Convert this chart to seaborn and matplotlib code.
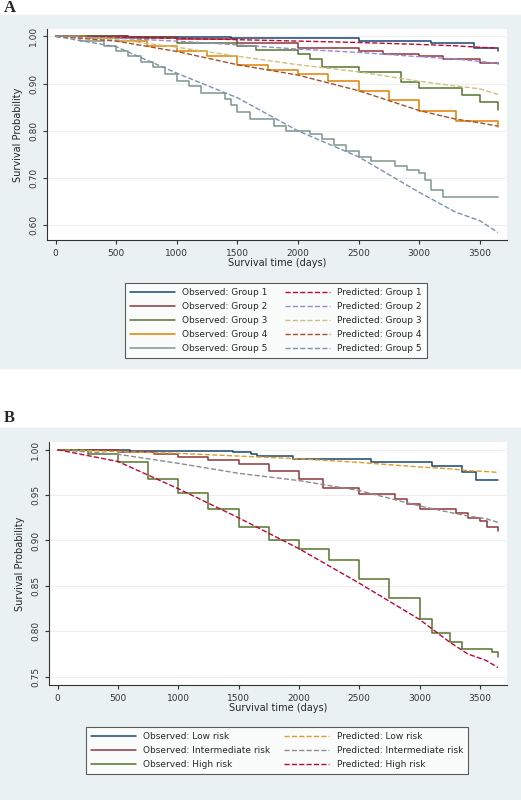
import matplotlib
matplotlib.use('Agg')
import matplotlib.pyplot as plt
import seaborn as sns
import pandas as pd
from matplotlib.patches import Rectangle

# ---- panel A data (time in days, survival) ----
a_obs_t = {
    'Group 1': [0, 600, 1450, 2500, 3100, 3450, 3650],
    'Group 2': [0, 600, 1000, 1500, 2000, 2500, 2700, 3000, 3200, 3500, 3650],
    'Group 3': [0, 500, 1000, 1500, 1650, 2000, 2100, 2200, 2500, 2850, 3000, 3350, 3500, 3650],
    'Group 4': [0, 250, 500, 750, 1000, 1250, 1500, 1750, 2000, 2250, 2500, 2750, 3000, 3300, 3650],
    'Group 5': [0, 200, 400, 500, 600, 700, 800, 900, 1000, 1100, 1200, 1400, 1450, 1500, 1600, 1800,
                1900, 2100, 2200, 2300, 2400, 2500, 2600, 2800, 2900, 3000, 3050, 3100, 3200, 3650],
}
a_obs_s = {
    'Group 1': [1.0, 0.999, 0.996, 0.99, 0.986, 0.976, 0.968],
    'Group 2': [1.0, 0.998, 0.995, 0.986, 0.976, 0.968, 0.962, 0.958, 0.952, 0.944, 0.942],
    'Group 3': [1.0, 0.996, 0.987, 0.98, 0.972, 0.962, 0.952, 0.935, 0.925, 0.903, 0.89, 0.876, 0.862, 0.845],
    'Group 4': [1.0, 0.997, 0.99, 0.98, 0.97, 0.958, 0.94, 0.928, 0.92, 0.905, 0.885, 0.865, 0.842, 0.82, 0.808],
    'Group 5': [1.0, 0.99, 0.98, 0.97, 0.958, 0.945, 0.935, 0.92, 0.905, 0.895, 0.88, 0.868, 0.855, 0.84, 0.826,
                0.81, 0.80, 0.793, 0.782, 0.77, 0.757, 0.745, 0.737, 0.725, 0.718, 0.71, 0.695, 0.675, 0.66, 0.66],
}
a_pred_t = [0, 500, 1000, 1500, 2000, 2500, 3000, 3300, 3500, 3650]
a_pred_s = {
    'Group 1': [1.0, 0.998, 0.996, 0.993, 0.99, 0.987, 0.983, 0.98, 0.977, 0.975],
    'Group 2': [1.0, 0.996, 0.99, 0.982, 0.973, 0.966, 0.957, 0.952, 0.947, 0.943],
    'Group 3': [1.0, 0.993, 0.977, 0.958, 0.94, 0.925, 0.905, 0.895, 0.889, 0.877],
    'Group 4': [1.0, 0.99, 0.968, 0.94, 0.918, 0.885, 0.843, 0.825, 0.817, 0.81],
    'Group 5': [1.0, 0.978, 0.922, 0.87, 0.80, 0.745, 0.67, 0.628, 0.61, 0.585],
}

# ---- panel B data ----
b_obs_t = {
    'Low risk': [0, 600, 1450, 1600, 1650, 1950, 2600, 3100, 3350, 3470, 3650],
    'Intermediate risk': [0, 500, 800, 1000, 1250, 1500, 1750, 2000, 2200, 2500, 2800, 2900, 3000,
                          3300, 3400, 3500, 3560, 3650],
    'High risk': [0, 250, 500, 750, 1000, 1250, 1500, 1750, 2000, 2250, 2500, 2750, 3000, 3100,
                  3250, 3350, 3600, 3650],
}
b_obs_s = {
    'Low risk': [1.0, 0.999, 0.997, 0.995, 0.993, 0.99, 0.987, 0.982, 0.976, 0.967, 0.967],
    'Intermediate risk': [1.0, 0.998, 0.995, 0.992, 0.989, 0.984, 0.977, 0.968, 0.958, 0.951, 0.946,
                          0.94, 0.935, 0.93, 0.925, 0.922, 0.915, 0.91],
    'High risk': [1.0, 0.995, 0.986, 0.968, 0.952, 0.935, 0.915, 0.9, 0.891, 0.879, 0.858, 0.837,
                  0.813, 0.798, 0.788, 0.78, 0.777, 0.772],
}
b_pred_t = [0, 500, 1000, 1500, 2000, 2500, 3000, 3250, 3400, 3550, 3650]
b_pred_s = {
    'Low risk': [1.0, 0.998, 0.996, 0.993, 0.99, 0.986, 0.981, 0.979, 0.977, 0.976, 0.975],
    'Intermediate risk': [1.0, 0.995, 0.985, 0.974, 0.966, 0.955, 0.938, 0.931, 0.927, 0.924, 0.92],
    'High risk': [1.0, 0.987, 0.957, 0.925, 0.891, 0.853, 0.813, 0.788, 0.775, 0.768, 0.76],
}

a_obs_col = ['#1a476f', '#90353b', '#55752f', '#e37e00', '#7f978c']
a_pred_col = ['#c10534', '#938dd2', '#cac27e', '#a0522d', '#7b92a8']
b_obs_col = ['#1a476f', '#90353b', '#55752f']
b_pred_col = ['#e39a2a', '#8c8c8c', '#c10534']

sns.set_style('white')
plt.rcParams['font.family'] = ['DejaVu Sans']
W, H = 521, 800
fig = plt.figure(figsize=(W / 100, H / 100), dpi=100)
bg = '#eaf1f2'
fig.patches.append(Rectangle((0, 1 - 368 / H), 1, 353 / H, transform=fig.transFigure, color=bg, zorder=-5))
fig.patches.append(Rectangle((0, 0), 1, 372 / H, transform=fig.transFigure, color=bg, zorder=-5))
fig.text(4 / W, 1 - 8 / H, 'A', fontsize=12, fontweight='bold', family='Liberation Serif', va='center')
fig.text(4 / W, 1 - 418 / H, 'B', fontsize=12, fontweight='bold', family='Liberation Serif', va='center')


def axes_px(x0, y0, x1, y1):
    return fig.add_axes([x0 / W, 1 - y1 / H, (x1 - x0) / W, (y1 - y0) / H])


def draw(ax, obs_t, obs_s, pred_t, pred_s, oc, pc, ylim, yt, fmt):
    ho, hp = [], []
    for i, k in enumerate(obs_t):
        df = pd.DataFrame({'t': obs_t[k], 's': obs_s[k]})
        sns.lineplot(data=df, x='t', y='s', ax=ax, color=oc[i], lw=1.1,
                     drawstyle='steps-post', estimator=None, sort=False)
        ho.append((ax.lines[-1], 'Observed: ' + k))
    for i, k in enumerate(pred_s):
        df = pd.DataFrame({'t': pred_t, 's': pred_s[k]})
        sns.lineplot(data=df, x='t', y='s', ax=ax, color=pc[i], lw=1.0, ls='--',
                     estimator=None, sort=False)
        hp.append((ax.lines[-1], 'Predicted: ' + k))
    ax.set_xlim(-72, 3725)
    ax.set_ylim(*ylim)
    ax.set_xticks(range(0, 3501, 500))
    ax.set_yticks(yt)
    ax.set_yticklabels([fmt % v for v in yt], rotation=90, va='center')
    ax.yaxis.grid(True, color='#eeeeee', lw=0.8)
    for s in ['top', 'right']:
        ax.spines[s].set_visible(False)
    for s in ['left', 'bottom']:
        ax.spines[s].set_color('#333333')
        ax.spines[s].set_linewidth(0.8)
    ax.tick_params(axis='both', labelsize=6.5, colors='#333333', length=3, left=True, bottom=True)
    ax.set_xlabel('Survival time (days)', fontsize=7, labelpad=0)
    ax.set_ylabel('Survival Probability', fontsize=7)
    return ho + hp


hA = draw(axes_px(47, 29, 507, 240), a_obs_t, a_obs_s, a_pred_t, a_pred_s, a_obs_col, a_pred_col,
          (0.569, 1.0156), [0.6, 0.7, 0.8, 0.9, 1.0], '%.2f')
hB = draw(axes_px(49, 442, 507, 685), b_obs_t, b_obs_s, b_pred_t, b_pred_s, b_obs_col, b_pred_col,
          (0.7408, 1.0085), [0.75, 0.8, 0.85, 0.9, 0.95, 1.0], '%.2f')

for hs, box in [(hA, (120, 278, 432, 362)), (hB, (81, 722, 473, 781))]:
    x0, y0, x1, y1 = box
    leg = fig.legend([h for h, _ in hs], [l for _, l in hs], ncol=2, loc='upper left',
                     bbox_to_anchor=(x0 / W, 1 - y1 / H, (x1 - x0) / W, (y1 - y0) / H),
                     mode='expand', fontsize=6.5, frameon=True, fancybox=False,
                     handlelength=5, labelspacing=0.55, borderpad=0.6, columnspacing=2)
    leg.get_frame().set_edgecolor('#333333')
    leg.get_frame().set_linewidth(0.8)

fig.savefig('out.png', dpi=100)
